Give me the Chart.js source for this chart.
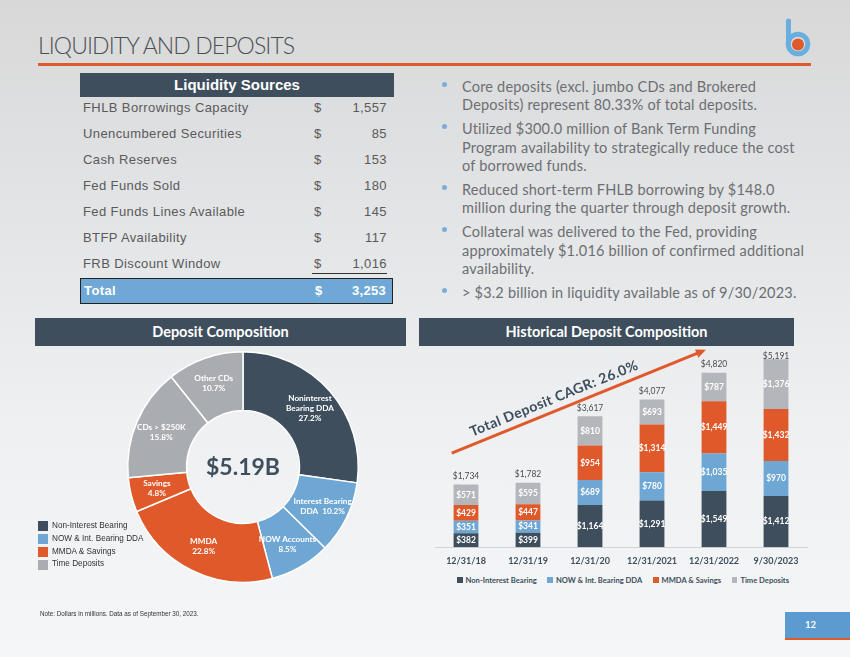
<!DOCTYPE html>
<html>
<head>
<meta charset="utf-8">
<script src="https://cdn.jsdelivr.net/npm/chart.js@4.4.1/dist/chart.umd.min.js"></script>
<style>
  html,body{margin:0;padding:0;}
  body{width:850px;height:657px;position:relative;overflow:hidden;
       background:linear-gradient(180deg,#d8d8d8 0%,#e3e5e7 35%,#eef0f2 65%,#f4f6f8 100%);
       font-family:'Liberation Sans',Arial,sans-serif;}
  .abs{position:absolute;}
  #title{left:38px;top:31px;font-family:Lato,sans-serif;font-weight:300;font-size:23px;color:#4b4f54;letter-spacing:-0.9px;white-space:nowrap;}
  #rule{left:38px;top:63px;width:773px;height:3px;background:#e0592a;}
  .hdr{background:#3e4e5c;color:#fff;font-weight:bold;text-align:center;white-space:nowrap;}
  #liqHdr{left:80px;top:73px;width:314px;height:24px;line-height:24px;font-size:15px;font-family:'Liberation Sans',Arial,sans-serif;}
  .row{position:absolute;left:80px;width:314px;height:20px;line-height:20px;font-size:13px;color:#5a5a5a;letter-spacing:0.4px;}
  .row .lab{position:absolute;left:3px;}
  .row .cur{position:absolute;left:234px;}
  .row .val{position:absolute;right:7px;}
  #uline{left:312px;top:273px;width:75px;height:1px;background:#333;}
  #totRow{left:80px;top:278px;width:311px;height:24px;background:#6fa8d6;border:1.5px solid #222;color:#fff;font-weight:bold;font-size:13px;line-height:24px;}
  #totRow .lab{position:absolute;left:3px;letter-spacing:0.4px;}
  #totRow .cur{position:absolute;left:234px;}
  #totRow .val{position:absolute;right:6px;letter-spacing:0.3px;}
  #bullets{left:462px;top:78px;width:370px;font-family:Lato,sans-serif;font-size:14.5px;color:#6c6f72;}
  .bp{position:relative;line-height:18.4px;margin-bottom:5.5px;white-space:nowrap;letter-spacing:0.2px;}
  .bp:before{content:'';position:absolute;left:-20px;top:4px;width:5px;height:5px;border-radius:50%;background:#7aaed8;}
  .sec{height:28px;line-height:28px;font-family:Lato,sans-serif;font-size:14.5px;}
  #secA{left:35px;top:318px;width:371px;}
  #secB{left:419px;top:318px;width:375px;}
  #dLegend{left:38px;top:520px;font-size:8.2px;color:#333;}
  .dl{height:12.8px;line-height:12.8px;position:relative;padding-left:14px;white-space:nowrap;}
  .dl i{position:absolute;left:0;top:1.4px;width:10px;height:10px;}
  #bLegend{left:457px;top:575px;width:332px;height:10px;display:flex;justify-content:space-between;font-family:Lato,sans-serif;font-weight:bold;font-size:7.6px;color:#3e4e5c;white-space:nowrap;}
  #bLegend span{display:flex;align-items:center;}
  #bLegend i{display:inline-block;width:5.5px;height:5.5px;margin-right:3px;}
  #note{left:40px;top:610px;font-size:6.3px;color:#333;white-space:nowrap;}
  #pg{left:785px;top:612px;width:65px;height:26px;background:#5b9bd0;border-bottom:2px solid #e0592a;}
  #pg span{position:absolute;left:20px;top:7px;color:#fff;font-weight:bold;font-size:9.5px;font-family:Lato,sans-serif;}
</style>
</head>
<body>
<div id="title" class="abs">LIQUIDITY AND DEPOSITS</div>
<div id="rule" class="abs"></div>
<svg class="abs" style="left:776px;top:12px" width="40" height="50" viewBox="776 12 40 50">
  <line x1="788.5" y1="21" x2="788.5" y2="44" stroke="#6aaee0" stroke-width="5" stroke-linecap="round"/>
  <circle cx="798" cy="44" r="9.8" fill="none" stroke="#6aaee0" stroke-width="5"/>
  <circle cx="798" cy="44.5" r="6" fill="#e0592a"/>
</svg>

<div id="liqHdr" class="abs hdr">Liquidity Sources</div>
<div id="liqRows"></div>
<div id="uline" class="abs"></div>
<div id="totRow" class="abs"><span class="lab">Total</span><span class="cur">$</span><span class="val" id="totVal"></span></div>

<div id="bullets" class="abs">
  <div class="bp">Core deposits (excl. jumbo CDs and Brokered<br>Deposits) represent 80.33% of total deposits.</div>
  <div class="bp">Utilized $300.0 million of Bank Term Funding<br>Program availability to strategically reduce the cost<br>of borrowed funds.</div>
  <div class="bp">Reduced short-term FHLB borrowing by $148.0<br>million during the quarter through deposit growth.</div>
  <div class="bp">Collateral was delivered to the Fed, providing<br>approximately $1.016 billion of confirmed additional<br>availability.</div>
  <div class="bp">&gt; $3.2 billion in liquidity available as of 9/30/2023.</div>
</div>

<div id="secA" class="abs hdr sec">Deposit Composition</div>
<div id="secB" class="abs hdr sec">Historical Deposit Composition</div>

<canvas id="donut" class="abs" style="left:123px;top:347px" width="240" height="240"></canvas>
<div id="dLegend" class="abs"></div>

<canvas id="bars" class="abs" style="left:420px;top:330px" width="392" height="244"></canvas>
<div id="bLegend" class="abs"></div>

<div id="note" class="abs">Note: Dollars in millions. Data as of September 30, 2023.</div>
<div id="pg" class="abs"><span>12</span></div>

<script>
// ---------- DATA ----------
const liquidityItems = ['FHLB Borrowings Capacity','Unencumbered Securities','Cash Reserves','Fed Funds Sold','Fed Funds Lines Available','BTFP Availability','FRB Discount Window'];
const liquidityValues = [1557, 85, 153, 180, 145, 117, 1016];
const liquidityTotal = 3253;

const donutLabels = ['Noninterest Bearing DDA','Interest Bearing DDA','NOW Accounts','MMDA','Savings','CDs > $250K','Other CDs'];
const donutValues = [27.2, 10.2, 8.5, 22.8, 4.8, 15.8, 10.7];
const donutNameLines = [['Noninterest','Bearing DDA'],['Interest Bearing','DDA'],['NOW Accounts'],['MMDA'],['Savings'],['CDs > $250K'],['Other CDs']];
const donutPctInline = [false, true, false, false, false, false, false];
const donutGroupOf = [0, 1, 1, 2, 2, 3, 3];
const donutTotalText = '$5.19B';

const seriesNames = ['Non-Interest Bearing','NOW & Int. Bearing DDA','MMDA & Savings','Time Deposits'];
const barCategories = ['12/31/18','12/31/19','12/31/20','12/31/2021','12/31/2022','9/30/2023'];
const nonInterest  = [382, 399, 1164, 1291, 1549, 1412];
const nowIntDDA    = [351, 341, 689, 780, 1035, 970];
const mmdaSavings  = [429, 447, 954, 1314, 1449, 1432];
const timeDeposits = [571, 595, 810, 693, 787, 1376];
const barTotals    = [1734, 1782, 3617, 4077, 4820, 5191];
const cagrText = 'Total Deposit CAGR: 26.0%';

// ---------- STYLE ----------
const groupColors = ['#3e4e5c','#6ea6d4','#e0592a','#a9adb2'];
const barColors = ['#3e4e5c','#6ea6d4','#e0592a','#b3b6bb'];
const fmt = v => v.toLocaleString('en-US');

// ---------- TABLE ----------
const rowsDiv = document.getElementById('liqRows');
liquidityItems.forEach((name, i) => {
  const r = document.createElement('div');
  r.className = 'row';
  r.style.top = (98 + 26 * i) + 'px';
  r.innerHTML = '<span class="lab">' + name + '</span><span class="cur">$</span><span class="val">' + fmt(liquidityValues[i]) + '</span>';
  rowsDiv.appendChild(r);
});
document.getElementById('totVal').textContent = fmt(liquidityTotal);

// ---------- LEGENDS ----------
const dl = document.getElementById('dLegend');
seriesNames.forEach((n, i) => {
  const d = document.createElement('div');
  d.className = 'dl';
  d.innerHTML = '<i style="background:' + groupColors[i] + '"></i>' + n;
  dl.appendChild(d);
});
const bl = document.getElementById('bLegend');
seriesNames.forEach((n, i) => {
  const s = document.createElement('span');
  s.innerHTML = '<i style="background:' + barColors[i] + '"></i>' + n;
  bl.appendChild(s);
});

Chart.defaults.font.family = 'Lato, sans-serif';

// ---------- DONUT ----------
const donutLabelPlugin = {
  id: 'donutLabels',
  afterDatasetsDraw(chart) {
    const ctx = chart.ctx;
    const meta = chart.getDatasetMeta(0);
    ctx.save();
    ctx.fillStyle = '#ffffff';
    ctx.font = 'bold 8.2px Lato, sans-serif';
    ctx.textAlign = 'center';
    ctx.textBaseline = 'middle';
    meta.data.forEach((arc, i) => {
      const mid = (arc.startAngle + arc.endAngle) / 2;
      const r = arc.innerRadius + (arc.outerRadius - arc.innerRadius) * 0.55;
      const cx = arc.x + Math.cos(mid) * r;
      const cy = arc.y + Math.sin(mid) * r;
      const lines = donutNameLines[i].slice();
      const pct = donutValues[i].toFixed(1) + '%';
      if (donutPctInline[i]) lines[lines.length - 1] += '  ' + pct; else lines.push(pct);
      const lh = 10;
      lines.forEach((t, k) => ctx.fillText(t, cx, cy + (k - (lines.length - 1) / 2) * lh));
    });
    const a0 = meta.data[0];
    ctx.fillStyle = '#3e4e5c';
    ctx.font = 'bold 23px Lato, sans-serif';
    ctx.fillText(donutTotalText, a0.x, a0.y + 1);
    ctx.restore();
  }
};

new Chart(document.getElementById('donut'), {
  type: 'doughnut',
  data: {
    labels: donutLabels,
    datasets: [{
      data: donutValues,
      backgroundColor: donutGroupOf.map(g => groupColors[g]),
      borderColor: '#ffffff',
      borderWidth: 1.5
    }]
  },
  options: {
    responsive: false,
    animation: false,
    cutout: '49%',
    layout: { padding: 4 },
    plugins: { legend: { display: false }, tooltip: { enabled: false } }
  },
  plugins: [donutLabelPlugin]
});

// ---------- BARS ----------
const barLabelPlugin = {
  id: 'barLabels',
  afterDatasetsDraw(chart) {
    const ctx = chart.ctx;
    ctx.save();
    ctx.textAlign = 'center';
    ctx.textBaseline = 'middle';
    ctx.fillStyle = '#ffffff';
    ctx.font = 'bold 8.5px Lato, sans-serif';
    chart.data.datasets.forEach((ds, i) => {
      chart.getDatasetMeta(i).data.forEach((bar, j) => {
        ctx.fillText('$' + fmt(ds.data[j]), bar.x, (bar.y + bar.base) / 2);
      });
    });
    ctx.fillStyle = '#4a4d50';
    ctx.font = '8.5px Lato, sans-serif';
    const minY = chart.chartArea.top + 8;
    chart.getDatasetMeta(3).data.forEach((bar, j) => {
      ctx.fillText('$' + fmt(barTotals[j]), bar.x, Math.max(bar.y - 8, minY));
    });

    // CAGR arrow
    const xs = chart.scales.x, ys = chart.scales.y;
    const w = xs.getPixelForValue(1) - xs.getPixelForValue(0);
    const x0 = xs.getPixelForValue(0) - 0.23 * w, y0 = ys.getPixelForValue(2600);
    const x1 = xs.getPixelForValue(3) + 0.87 * w, y1 = ys.getPixelForValue(5450);
    const ang = Math.atan2(y1 - y0, x1 - x0);
    ctx.strokeStyle = '#e0592a';
    ctx.fillStyle = '#e0592a';
    ctx.lineWidth = 3;
    ctx.beginPath();
    ctx.moveTo(x0, y0);
    ctx.lineTo(x1 - 7 * Math.cos(ang), y1 - 7 * Math.sin(ang));
    ctx.stroke();
    ctx.beginPath();
    ctx.moveTo(x1, y1);
    ctx.lineTo(x1 - 10 * Math.cos(ang) + 4.5 * Math.sin(ang), y1 - 10 * Math.sin(ang) - 4.5 * Math.cos(ang));
    ctx.lineTo(x1 - 10 * Math.cos(ang) - 4.5 * Math.sin(ang), y1 - 10 * Math.sin(ang) + 4.5 * Math.cos(ang));
    ctx.closePath();
    ctx.fill();
    // text
    const tx = x0 + (x1 - x0) * 0.42 + 12 * Math.sin(ang);
    const ty = y0 + (y1 - y0) * 0.42 - 12 * Math.cos(ang);
    ctx.translate(tx, ty);
    ctx.rotate(ang);
    ctx.fillStyle = '#3e4e5c';
    ctx.font = 'bold 14px Lato, sans-serif';
    if ('letterSpacing' in ctx) ctx.letterSpacing = '0.4px';
    ctx.fillText(cagrText, 0, 0);
    ctx.restore();
  }
};

const seriesData = [nonInterest, nowIntDDA, mmdaSavings, timeDeposits];
new Chart(document.getElementById('bars'), {
  type: 'bar',
  data: {
    labels: barCategories,
    datasets: seriesNames.map((n, i) => ({
      label: n,
      data: seriesData[i],
      backgroundColor: barColors[i],
      borderWidth: 0,
      barPercentage: 0.4,
      categoryPercentage: 1.0
    }))
  },
  options: {
    responsive: false,
    animation: false,
    layout: { padding: { left: 15, right: 5, top: 18, bottom: 0 } },
    scales: {
      x: {
        stacked: true,
        grid: { display: false, drawTicks: false },
        border: { display: true, color: '#cfd2d5', width: 1 },
        ticks: { color: '#3e4e5c', font: { weight: 'bold', size: 9 }, padding: 8 }
      },
      y: {
        stacked: true,
        display: false,
        min: 0,
        max: 5500
      }
    },
    plugins: {
      tooltip: { enabled: false },
      legend: { display: false }
    }
  },
  plugins: [barLabelPlugin]
});
</script>
</body>
</html>
